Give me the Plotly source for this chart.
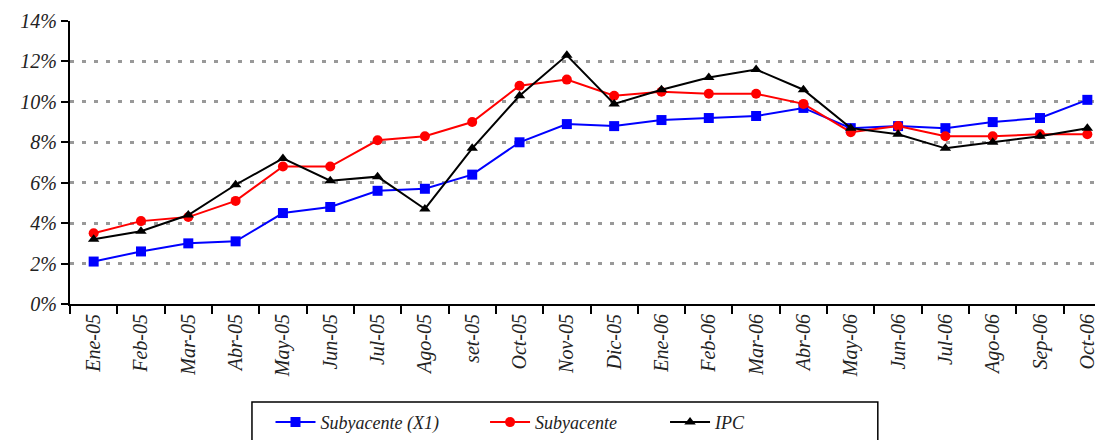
import plotly.graph_objects as go

# Monthly inflation rates (%), Jan-2005 to Oct-2006
months = [
    "Ene-05", "Feb-05", "Mar-05", "Abr-05", "May-05", "Jun-05", "Jul-05",
    "Ago-05", "set-05", "Oct-05", "Nov-05", "Dic-05", "Ene-06", "Feb-06",
    "Mar-06", "Abr-06", "May-06", "Jun-06", "Jul-06", "Ago-06", "Sep-06",
    "Oct-06",
]
subyacente_x1 = [2.1, 2.6, 3.0, 3.1, 4.5, 4.8, 5.6, 5.7, 6.4, 8.0, 8.9,
                 8.8, 9.1, 9.2, 9.3, 9.7, 8.7, 8.8, 8.7, 9.0, 9.2, 10.1]
subyacente = [3.5, 4.1, 4.3, 5.1, 6.8, 6.8, 8.1, 8.3, 9.0, 10.8, 11.1,
              10.3, 10.5, 10.4, 10.4, 9.9, 8.5, 8.8, 8.3, 8.3, 8.4, 8.4]
ipc = [3.2, 3.6, 4.4, 5.9, 7.2, 6.1, 6.3, 4.7, 7.7, 10.3, 12.3,
       9.9, 10.6, 11.2, 11.6, 10.6, 8.7, 8.4, 7.7, 8.0, 8.3, 8.7]

FONT = "Liberation Serif"
label_font = dict(family=FONT, size=20, color="#222222", style="italic")
legend_font = dict(family=FONT, size=18, color="#222222", style="italic")

fig = go.Figure()

# name, values, colour, marker, legend id, legend x (paper)
series = [
    ("Subyacente (X1)", subyacente_x1, "#0000ff", "square", "legend", 0.1926),
    ("Subyacente", subyacente, "#ff0000", "circle", "legend2", 0.3987),
    ("IPC", ipc, "#000000", "triangle-up", "legend3", 0.5716),
]
legends = {}
for name, values, color, symbol, legend_id, lx in series:
    fig.add_trace(go.Scatter(
        x=months,
        y=values,
        mode="lines+markers",
        name=name,
        legend=legend_id,
        line=dict(color=color, width=2),
        marker=dict(symbol=symbol, size=10, color=color),
    ))
    legends[legend_id] = dict(
        orientation="h",
        x=lx, xanchor="left",
        y=-0.353, yanchor="top",
        font=legend_font,
        itemwidth=40,
        bgcolor="rgba(0,0,0,0)",
    )

# Legend frame (the original box is clipped at the bottom edge)
fig.add_shape(
    type="rect", xref="paper", yref="paper",
    x0=0.1748, x1=0.776, y0=-0.346, y1=-0.60,
    line=dict(color="#000000", width=1.5),
)

# the page body adds an 8px offset, so margins are trimmed by that amount
fig.update_layout(
    width=1103,
    height=440,
    margin=dict(l=62, r=0, t=13, b=144, autoexpand=False),
    plot_bgcolor="white",
    paper_bgcolor="white",
    showlegend=True,
    xaxis=dict(
        type="category",
        range=[-0.5, 21.5],
        automargin=False,
        showline=True, linecolor="black", linewidth=2,
        ticks="outside", tickson="boundaries", ticklen=8,
        tickcolor="black", tickwidth=2,
        tickangle=-90,
        tickfont=label_font,
        showgrid=False,
    ),
    yaxis=dict(
        range=[0, 14],
        dtick=2,
        ticksuffix="%",
        automargin=False,
        showline=True, linecolor="black", linewidth=2,
        ticks="outside", ticklen=7, tickcolor="black", tickwidth=2,
        tickfont=label_font,
        showgrid=True, gridcolor="#999999", gridwidth=3, griddash="4px,8px",
        zeroline=False,
    ),
    **legends,
)

fig.write_html("out.html")
